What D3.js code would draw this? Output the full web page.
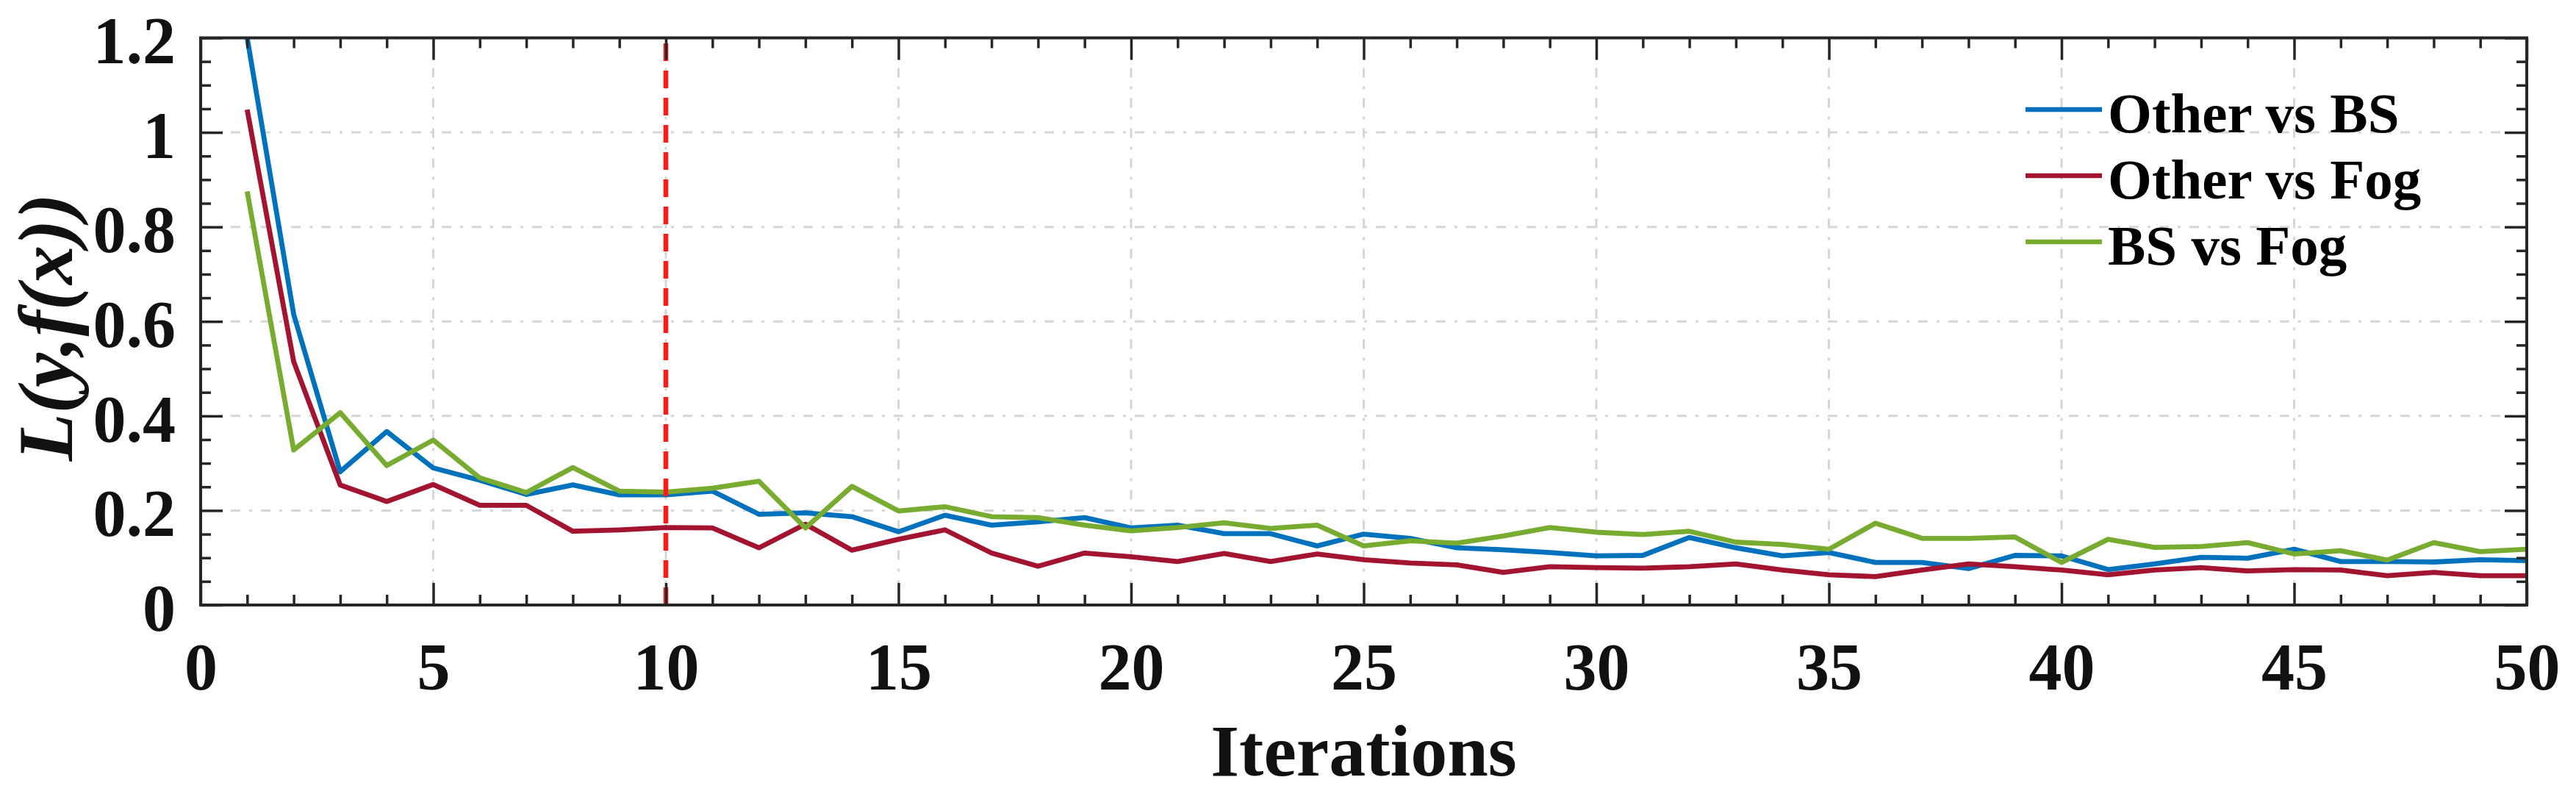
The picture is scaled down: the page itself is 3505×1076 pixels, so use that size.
<!DOCTYPE html>
<html><head><meta charset="utf-8">
<script src="https://cdn.jsdelivr.net/npm/d3@7/dist/d3.min.js"></script>
<style>html,body{margin:0;padding:0;background:#fff}</style>
</head><body>
<svg id="chart" width="3505" height="1076"></svg>
<script>
// ---------------- data ----------------
const iterations = [1,2,3,4,5,6,7,8,9,10,11,12,13,14,15,16,17,18,19,20,21,22,23,24,25,26,27,28,29,30,31,32,33,34,35,36,37,38,39,40,41,42,43,44,45,46,47,48,49,50];
const otherVsBS = [1.20,0.615,0.282,0.367,0.290,0.264,0.234,0.254,0.233,0.233,0.241,0.192,0.195,0.187,0.155,0.190,0.169,0.176,0.185,0.163,0.169,0.151,0.151,0.125,0.150,0.141,0.121,0.117,0.111,0.104,0.105,0.143,0.121,0.104,0.111,0.090,0.090,0.077,0.105,0.104,0.075,0.087,0.101,0.099,0.118,0.092,0.092,0.091,0.096,0.094];
const otherVsFog = [1.048,0.515,0.254,0.219,0.255,0.211,0.211,0.156,0.159,0.164,0.163,0.121,0.171,0.116,0.139,0.159,0.110,0.082,0.110,0.102,0.092,0.109,0.092,0.108,0.096,0.089,0.085,0.069,0.081,0.079,0.078,0.081,0.087,0.074,0.064,0.060,0.074,0.087,0.081,0.074,0.064,0.074,0.079,0.072,0.075,0.074,0.062,0.069,0.062,0.062];
const bsVsFog = [0.875,0.328,0.407,0.295,0.349,0.269,0.238,0.291,0.241,0.239,0.247,0.262,0.163,0.251,0.199,0.208,0.187,0.185,0.169,0.157,0.164,0.174,0.162,0.169,0.125,0.136,0.131,0.146,0.164,0.154,0.149,0.156,0.133,0.128,0.118,0.173,0.141,0.141,0.144,0.090,0.139,0.122,0.124,0.132,0.108,0.115,0.095,0.132,0.113,0.118];
const seriesNames = ["Other vs BS","Other vs Fog","BS vs Fog"];
const seriesColors = ["#0072BD","#A2142F","#77AC30"];
const xMajorTicks = [0,5,10,15,20,25,30,35,40,45,50];
const xMinorTicks = [1,2,3,4,6,7,8,9,11,12,13,14,16,17,18,19,21,22,23,24,26,27,28,29,31,32,33,34,36,37,38,39,41,42,43,44,46,47,48,49];
const yMajorTicks = [0,0.2,0.4,0.6,0.8,1.0,1.2];
const yTickLabels = ["0","0.2","0.4","0.6","0.8","1","1.2"];
const yMinorTicks = [0.05,0.1,0.15,0.25,0.3,0.35,0.45,0.5,0.55,0.65,0.7,0.75,0.85,0.9,0.95,1.05,1.1,1.15];
const markerIteration = 10;
const xLabel = "Iterations";
const yLabel = "L(y,f(x))";

// ---------------- layout ----------------
const L = 273, R = 3438, T = 51.5, B = 823;
const FONT = "'Liberation Serif','Times New Roman',serif";
const ink = "#262626";
const svg = d3.select("#chart");
svg.append("rect").attr("width",3505).attr("height",1076).attr("fill","#fff");

const x = d3.scaleLinear().domain([0,50]).range([L,R]);
const y = d3.scaleLinear().domain([0,1.2]).range([B,T]);

// grid
const grid = svg.append("g").attr("stroke","#d6d6d6").attr("stroke-width",3)
  .attr("stroke-dasharray","13,12,4,12");
grid.selectAll(".gx").data(xMajorTicks.slice(1,-1)).join("line")
  .attr("x1",d=>x(d)).attr("x2",d=>x(d)).attr("y1",T).attr("y2",B);
grid.selectAll(".gy").data(yMajorTicks.slice(1,-1)).join("line")
  .attr("y1",d=>y(d)).attr("y2",d=>y(d)).attr("x1",L).attr("x2",R);

// data lines
const series = [otherVsBS, otherVsFog, bsVsFog];
svg.append("clipPath").attr("id","clip").append("rect")
  .attr("x",L).attr("y",T).attr("width",R-L).attr("height",B-T);
const line = d3.line().x((d,i)=>x(iterations[i])).y(d=>y(d));
svg.append("g").attr("clip-path","url(#clip)")
  .selectAll("path").data(series).join("path")
  .attr("d",line).attr("fill","none")
  .attr("stroke",(d,i)=>seriesColors[i]).attr("stroke-width",6.8)
  .attr("stroke-linejoin","round");

// red dashed marker
svg.append("line").attr("x1",x(markerIteration)).attr("x2",x(markerIteration))
  .attr("y1",y(0)).attr("y2",y(1.2)-2)
  .attr("stroke","#ff1a1a").attr("stroke-width",6.5).attr("stroke-dasharray","24,13");

// axes (ticks inward)
function styleAxis(g){
  g.select(".domain").remove();
  g.attr("color",ink);
  g.selectAll(".tick line").attr("stroke-width",3.5);
  g.selectAll("text").attr("font-family",FONT).attr("font-weight","bold")
    .attr("font-size",90).attr("fill","#111");
}
const MAJ = 30, MIN = 14;
svg.append("g").attr("transform",`translate(0,${B})`)
  .call(d3.axisBottom(x).tickValues(xMinorTicks).tickSize(-MIN).tickFormat(""))
  .call(styleAxis);
svg.append("g").attr("transform",`translate(0,${B})`)
  .call(d3.axisBottom(x).tickValues(xMajorTicks).tickSize(-MAJ).tickPadding(51).tickFormat(d3.format("d")))
  .call(styleAxis);
svg.append("g").attr("transform",`translate(0,${T})`)
  .call(d3.axisTop(x).tickValues(xMinorTicks).tickSize(-MIN).tickFormat(""))
  .call(styleAxis);
svg.append("g").attr("transform",`translate(0,${T})`)
  .call(d3.axisTop(x).tickValues(xMajorTicks).tickSize(-MAJ).tickFormat(""))
  .call(styleAxis);
svg.append("g").attr("transform",`translate(${L},0)`)
  .call(d3.axisLeft(y).tickValues(yMinorTicks).tickSize(-MIN).tickFormat(""))
  .call(styleAxis);
svg.append("g").attr("transform",`translate(${L},0)`)
  .call(d3.axisLeft(y).tickValues(yMajorTicks).tickSize(-MAJ).tickPadding(34)
        .tickFormat((d,i)=>yTickLabels[i]))
  .call(styleAxis)
  .call(g=>g.selectAll("text").attr("dy","0.38em"));
svg.append("g").attr("transform",`translate(${R},0)`)
  .call(d3.axisRight(y).tickValues(yMinorTicks).tickSize(-MIN).tickFormat(""))
  .call(styleAxis);
svg.append("g").attr("transform",`translate(${R},0)`)
  .call(d3.axisRight(y).tickValues(yMajorTicks).tickSize(-MAJ).tickFormat(""))
  .call(styleAxis);

// frame
svg.append("rect").attr("x",L).attr("y",T).attr("width",R-L).attr("height",B-T)
  .attr("fill","none").attr("stroke",ink).attr("stroke-width",4);

// axis labels
svg.append("text").attr("x",(L+R)/2).attr("y",1055).attr("text-anchor","middle")
  .attr("font-family",FONT).attr("font-weight","bold").attr("font-size",100)
  .attr("fill","#111").text(xLabel);
svg.append("text").attr("transform",`translate(98,${(T+B)/2+8}) rotate(-90)`)
  .attr("text-anchor","middle").attr("font-family",FONT).attr("font-weight","bold")
  .attr("font-style","italic").attr("font-size",106).attr("fill","#111").text(yLabel);

// legend
const lg = svg.append("g");
const rowBase = [180,270,360];
seriesNames.forEach((name,i)=>{
  lg.append("line").attr("x1",2756).attr("x2",2860)
    .attr("y1",rowBase[i]-31).attr("y2",rowBase[i]-31)
    .attr("stroke",seriesColors[i]).attr("stroke-width",6.5);
  lg.append("text").attr("x",2868).attr("y",rowBase[i])
    .attr("font-family",FONT).attr("font-weight","bold").attr("font-size",77)
    .attr("fill","#000").text(name);
});
</script>
</body></html>
